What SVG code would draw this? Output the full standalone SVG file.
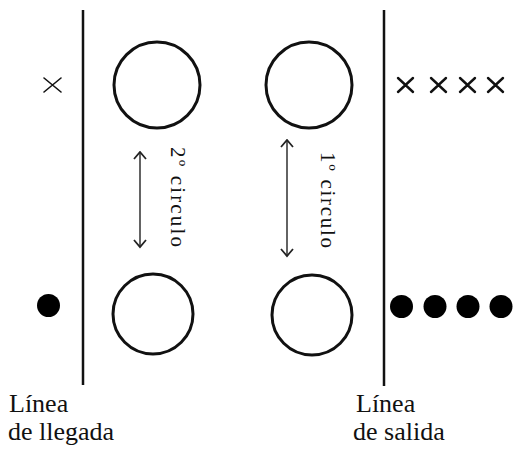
<svg xmlns="http://www.w3.org/2000/svg" width="514" height="449" viewBox="0 0 514 449">
<style>
.ring{fill:none;stroke:#111;stroke-width:3}
.line{stroke:#111;stroke-width:2.5;fill:none}
.arr{stroke:#222;stroke-width:1.4;fill:none}
.xm{stroke:#111;fill:none;stroke-linecap:round}
.dot{fill:#000}
.lbl{font-family:"Liberation Serif",serif;font-size:26px;fill:#111}
.rot{font-family:"Liberation Serif",serif;font-size:21px;fill:#111}
</style>
<defs>
<marker id="chev" viewBox="0 0 10 14" refX="8.5" refY="7" markerWidth="10" markerHeight="14" markerUnits="userSpaceOnUse" orient="auto-start-reverse">
<path d="M1.5,1 L8.5,7 L1.5,13" fill="none" stroke="#222" stroke-width="1.8"/>
</marker>
</defs>
<rect width="514" height="449" fill="#fff"/>
<g id="linea-llegada">
<line class="line" x1="83" y1="10" x2="83" y2="385"/>
<text class="lbl" x="9" y="412">Línea</text>
<text class="lbl" x="8" y="440">de llegada</text>
</g>
<g id="linea-salida">
<line class="line" x1="384" y1="10" x2="384" y2="386"/>
<text class="lbl" x="356" y="412">Línea</text>
<text class="lbl" x="353" y="440">de salida</text>
</g>
<g id="circle-tl"><circle class="ring" cx="157" cy="85" r="43"/></g>
<g id="circle-tr"><circle class="ring" cx="309" cy="85" r="43"/></g>
<g id="circle-bl"><circle class="ring" cx="153" cy="314" r="40"/></g>
<g id="circle-br"><circle class="ring" cx="312" cy="315" r="40"/></g>
<g id="x-left"><path class="xm" stroke-width="1.6" d="M44,78 L61,92 M61,78 L44,92"/></g>
<g id="x-right">
<path class="xm" stroke-width="2.4" d="M398,78 L413,92 M413,78 L398,92"/>
<path class="xm" stroke-width="2.4" d="M431,78 L446,92 M446,78 L431,92"/>
<path class="xm" stroke-width="2.4" d="M460,78 L475,92 M475,78 L460,92"/>
<path class="xm" stroke-width="2.4" d="M488,78 L503,92 M503,78 L488,92"/>
</g>
<g id="dot-left"><circle class="dot" cx="48.5" cy="305.5" r="11.5"/></g>
<g id="dots-right">
<circle class="dot" cx="401.5" cy="306.5" r="11.5"/>
<circle class="dot" cx="435" cy="306.5" r="11.5"/>
<circle class="dot" cx="468" cy="306.5" r="11.5"/>
<circle class="dot" cx="501" cy="306.5" r="11.5"/>
</g>
<g id="connectors">
<line class="arr" x1="140" y1="152" x2="140" y2="247" marker-start="url(#chev)" marker-end="url(#chev)"/>
<line class="arr" x1="287" y1="140" x2="287" y2="256" marker-start="url(#chev)" marker-end="url(#chev)"/>
</g>
<g id="label-2">
<text class="rot" transform="translate(171,147) rotate(90)" textLength="100" lengthAdjust="spacing">2º circulo</text>
</g>
<g id="label-1">
<text class="rot" transform="translate(321,152) rotate(90)" textLength="96" lengthAdjust="spacing">1º circulo</text>
</g>
</svg>
